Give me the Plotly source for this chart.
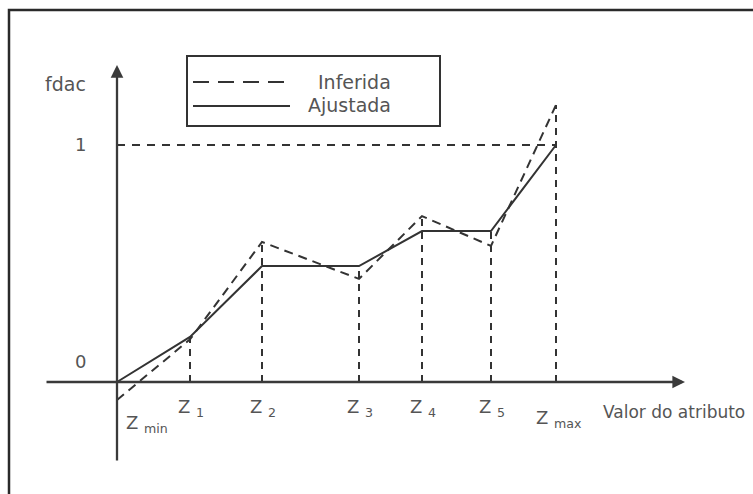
import plotly.graph_objects as go

# ---- data ----
z_names = ["min", "1", "2", "3", "4", "5", "max"]
z_pos = [0.0, 0.73, 1.45, 2.42, 3.05, 3.74, 4.39]
ajustada = [0.0, 0.19, 0.489, 0.489, 0.637, 0.637, 1.0]
inferida = [-0.076, 0.18, 0.591, 0.435, 0.70, 0.574, 1.169]
series_names = ["Inferida", "Ajustada"]
y_ticks = [0, 1]
y_label = "fdac"
x_label = "Valor do atributo"

W, H = 753, 494
LINE = "#333333"
TXT = "#555555"
FONT = "DejaVu Sans"

def px(x):
    return x / W

def py(y):
    return 1 - y / H

fig = go.Figure()

# guide lines (vertical from each Z down to axis, horizontal at 1)
for i in range(1, len(z_pos)):
    top = max(ajustada[i], inferida[i])
    fig.add_trace(go.Scatter(x=[z_pos[i], z_pos[i]], y=[0, top], mode="lines",
                             line=dict(color=LINE, width=2, dash="7px,6px"),
                             showlegend=False, hoverinfo="skip"))
fig.add_trace(go.Scatter(x=[z_pos[0], z_pos[-1]], y=[y_ticks[1], y_ticks[1]], mode="lines",
                         line=dict(color=LINE, width=2, dash="8px,7px"),
                         showlegend=False, hoverinfo="skip"))

fig.add_trace(go.Scatter(x=z_pos, y=inferida, mode="lines", name=series_names[0],
                         line=dict(color=LINE, width=2, dash="9px,6px"), showlegend=False))
fig.add_trace(go.Scatter(x=z_pos, y=ajustada, mode="lines", name=series_names[1],
                         line=dict(color=LINE, width=2), showlegend=False))

x_rng = [-1.17, 6.36]
y_rng = [-0.4726, 1.6118]

ann = []
# axes with arrows
ann.append(dict(x=5.68, y=0, ax=-0.72, ay=0, xref="x", yref="y", axref="x", ayref="y",
                text="", showarrow=True, arrowhead=2, arrowsize=1.1, arrowwidth=2.3,
                arrowcolor="#3a3a3a", standoff=0))
ann.append(dict(x=0, y=1.3376, ax=0, ay=-0.3376, xref="x", yref="y", axref="x", ayref="y",
                text="", showarrow=True, arrowhead=2, arrowsize=1.1, arrowwidth=2.3,
                arrowcolor="#3a3a3a", standoff=0))

# y tick labels
for v in y_ticks:
    ann.append(dict(x=0, y=v, xref="x", yref="y", text=str(v), showarrow=False,
                    xshift=-37, yshift=20 if v == 0 else 1,
                    font=dict(family=FONT, size=18, color=TXT)))
ann.append(dict(x=0, y=1.257, xref="x", yref="y", text=y_label, showarrow=False,
                xshift=-52, font=dict(family=FONT, size=19, color=TXT)))

# Z labels
for i, (nm, zx) in enumerate(zip(z_names, z_pos)):
    if nm == "min":
        xs, ys = 30, -42
    elif nm == "max":
        xs, ys = 3, -37
    else:
        xs, ys = 1, -26
    ann.append(dict(x=zx, y=0, xref="x", yref="y",
                    text="Z&nbsp;<sub>" + nm + "</sub>", showarrow=False,
                    xshift=xs, yshift=ys, font=dict(family=FONT, size=18, color=TXT)))

ann.append(dict(x=4.84, y=-0.127, xref="x", yref="y", text=x_label, showarrow=False,
                xanchor="left", font=dict(family=FONT, size=17, color=TXT)))

# legend text
ann.append(dict(x=px(354), y=py(82), xref="paper", yref="paper", text=series_names[0],
                xanchor="center", yanchor="middle",
                showarrow=False, font=dict(family=FONT, size=19, color=TXT)))
ann.append(dict(x=px(349), y=py(105), xref="paper", yref="paper", text=series_names[1],
                xanchor="center", yanchor="middle",
                showarrow=False, font=dict(family=FONT, size=19, color=TXT)))

shapes = [
    # outer frame
    dict(type="rect", xref="paper", yref="paper", x0=px(9), y0=-0.1, x1=1.1, y1=py(10),
         line=dict(color="#2a2a2a", width=2.5)),
    # legend box
    dict(type="rect", xref="paper", yref="paper", x0=px(187), y0=py(126), x1=px(440), y1=py(56),
         line=dict(color=LINE, width=2)),
    dict(type="line", xref="paper", yref="paper", x0=px(193), y0=py(82), x1=px(290), y1=py(82),
         line=dict(color=LINE, width=2, dash="16px,9px")),
    dict(type="line", xref="paper", yref="paper", x0=px(193), y0=py(106), x1=px(290), y1=py(106),
         line=dict(color=LINE, width=2)),
]

fig.update_layout(
    width=W, height=H, margin=dict(l=0, r=0, t=0, b=0),
    paper_bgcolor="white", plot_bgcolor="white",
    xaxis=dict(range=x_rng, visible=False, fixedrange=True),
    yaxis=dict(range=y_rng, visible=False, fixedrange=True),
    annotations=ann, shapes=shapes, showlegend=False,
)

fig.write_html("out.html", config={"displayModeBar": False},
               post_script="document.body.style.margin='0';")
